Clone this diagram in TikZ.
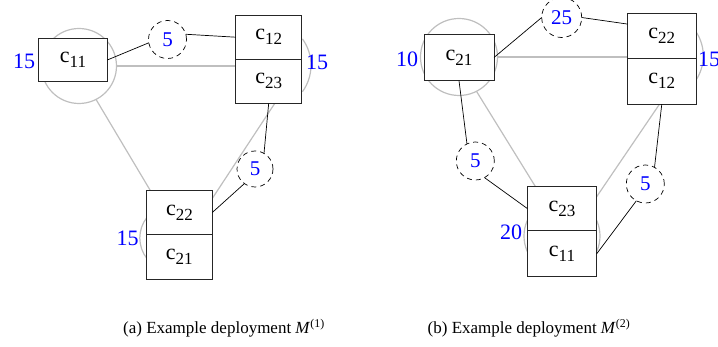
\documentclass[tikz,border=0pt]{standalone}
\usepackage{fontspec}
\setmainfont{Liberation Serif}
\usetikzlibrary{calc}
\newcommand{\compname}[1]{c\raisebox{-5pt}{\fontsize{17}{17}\selectfont #1}}
\tikzset{
  box/.style={draw=black!85, fill=white, line width=0.9pt, inner sep=0pt, outer sep=0pt,
    minimum width=#1, font=\fontsize{22}{22}\selectfont},
  mach/.style={draw=black!25, line width=1.2pt, circle, inner sep=0pt, outer sep=0pt, minimum size=#1},
  glink/.style={draw=black!25, line width=1.2pt},
  cost/.style={circle, draw=black, dash pattern=on 5pt off 4pt, line width=0.7pt, minimum size=#1,
    inner sep=0pt, outer sep=0pt, text=blue, font=\fontsize{21}{21}\selectfont},
  capnum/.style={text=blue, font=\fontsize{22}{22}\selectfont, inner sep=0pt},
  link/.style={draw=black, line width=0.7pt},
  capt/.style={font=\fontsize{17}{17}\selectfont, anchor=base, inner sep=0pt},
}
\begin{document}
\begin{tikzpicture}[x=1pt, y=-1pt]
\useasboundingbox (0,0) rectangle (718,347);

% ---------------- (a) ----------------
% machines (grey)
\node[mach=75pt] (m1a) at (79,66) {};
\draw[glink] (266,65.3) ++(-36:45) arc[start angle=-36, end angle=36, radius=45];
\draw[glink] (173,238) ++(142:33.2) arc[start angle=142, end angle=218, radius=33.2];
\coordinate (ga2) at (238,66);
\coordinate (ga4) at (151.8,193);
\coordinate (ga5) at (277,100);
\coordinate (ga6) at (211.6,199.5);
\draw[glink] (m1a.east) -- (ga2);
\draw[glink] (m1a.297) -- (ga4);
\draw[glink] (ga5) -- (ga6);

% components
\node[box=68.6pt, minimum height=43.4pt] (c11a) at (73,60) {\compname{11}};
\node[box=66pt, minimum height=44.3pt] (c12a) at (268.7,37.2) {\compname{12}};
\node[box=66pt, minimum height=44pt] (c23a) at (268.7,81.3) {\compname{23}};
\node[box=65.6pt, minimum height=43.6pt] (c22a) at (179.5,212.5) {\compname{22}};
\node[box=66.6pt, minimum height=45pt] (c21a) at (179.3,256.8) {\compname{21}};

% communication costs
\node[cost=38pt] (w1a) at (167.5,39.5) {5};
\node[cost=36pt] (w2a) at (255,169) {5};
\draw[link] (c11a.east) -- (w1a.190);
\draw[link] (w1a.16) -- (c12a.west);
\draw[link] (c23a.south) -- (w2a.60);
\draw[link] (w2a.234) -- (c22a.east);

% capacities
\node[capnum] (k1a) at (24,61) {15};
\node[capnum] (k2a) at (317,62) {15};
\node[capnum] (k3a) at (127.5,238) {15};

\node[capt] (capa) at (224,334) {(a) Example deployment \textit{M}\textsuperscript{(1)}};

% ---------------- (b) ----------------
\node[mach=77pt] (m1b) at (459,57) {};
\node[mach=76pt] (m3b) at (562,236) {};
\draw[glink] (659.7,55.9) ++(-34:43.6) arc[start angle=-34, end angle=34, radius=43.6];
\coordinate (gb2) at (630,57);
\coordinate (gb4) at (536.9,189);
\coordinate (gb5) at (660.3,103);
\coordinate (gb6) at (595.1,199);
\draw[glink] (m1b.east) -- (gb2);
\draw[glink] (m1b.297) -- (gb4);
\draw[glink] (gb5) -- (gb6);

\node[box=70pt, minimum height=46.4pt] (c21b) at (459,57.5) {\compname{21}};
\node[box=68.3pt, minimum height=45pt] (c22b) at (661.8,35.8) {\compname{22}};
\node[box=68.3pt, minimum height=45.7pt] (c12b) at (661.8,81.2) {\compname{12}};
\node[box=69.4pt, minimum height=45pt] (c23b) at (562,208.5) {\compname{23}};
\node[box=69.4pt, minimum height=45.7pt] (c11b) at (562,253.8) {\compname{11}};

\node[cost=40pt] (w3b) at (561.7,17.5) {25};
\node[cost=38pt] (w4b) at (475.3,161) {5};
\node[cost=38pt] (w5b) at (645.3,184) {5};
\coordinate (c22bin) at ($(c22b.north west)!0.24!(c22b.south west)$);
\draw[link] (c21b.east) -- (w3b.180);
\draw[link] (w3b.0) -- (c22bin);
\draw[link] (c21b.south) -- (w4b.116);
\draw[link] (w4b.299) -- (c23b.west);
\draw[link] (c12b.south) -- (w5b.61);
\draw[link] (w5b.242) -- (c11b.east);

\node[capnum] (k1b) at (407,59) {10};
\node[capnum] (k2b) at (709,59) {15};
\node[capnum] (k3b) at (511,232) {20};

\node[capt] (captb) at (529,334) {(b) Example deployment \textit{M}\textsuperscript{(2)}};
\end{tikzpicture}
\end{document}
